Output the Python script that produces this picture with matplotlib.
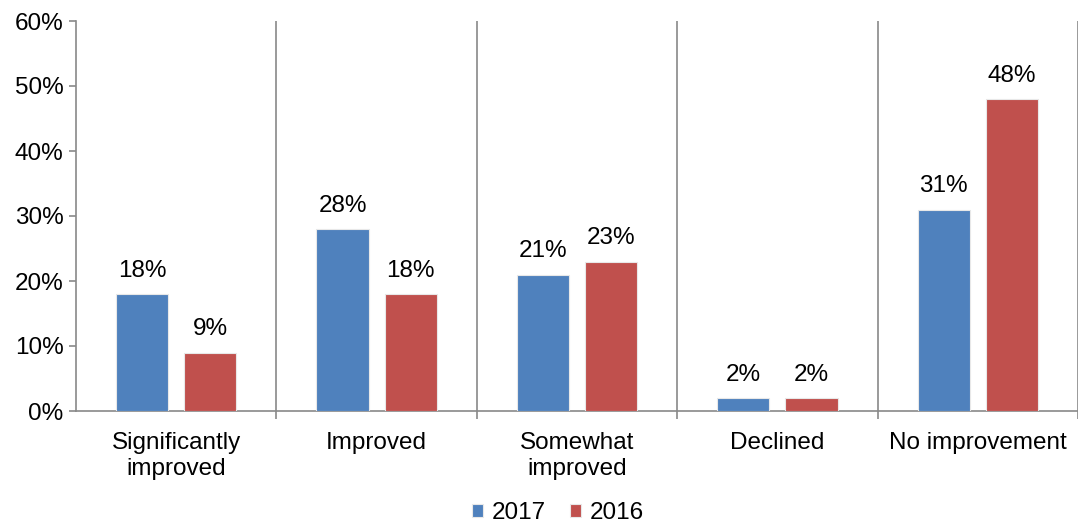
import numpy as np
import matplotlib.pyplot as plt
from matplotlib.ticker import PercentFormatter

plt.rcParams['font.family'] = ['Liberation Sans', 'DejaVu Sans']

categories = ['Significantly\nimproved', 'Improved', 'Somewhat\nimproved', 'Declined', 'No improvement']
vals_2017 = [18, 28, 21, 2, 31]
vals_2016 = [9, 18, 23, 2, 48]

blue = '#4F81BD'
red = '#C0504D'
grey = '#898989'
fs = 17.5

fig = plt.figure(figsize=(10.78, 5.26), dpi=100)
ax = fig.add_axes([76 / 1078, 1 - 411 / 526, 1 - 76 / 1078, 390 / 526])

x = np.arange(len(categories))
w = 0.26
off = 0.17
b1 = ax.bar(x - off, vals_2017, w, color=blue, edgecolor='#e8e8e8', linewidth=0.8, label='2017', zorder=3)
b2 = ax.bar(x + off, vals_2016, w, color=red, edgecolor='#e8e8e8', linewidth=0.8, label='2016', zorder=3)

for bars in (b1, b2):
    for r in bars:
        h = r.get_height()
        ax.text(r.get_x() + r.get_width() / 2, h + 1.9, f'{h:.0f}%',
                ha='center', va='bottom', fontsize=fs, color='black')

ax.set_ylim(0, 60)
ax.set_yticks(range(0, 61, 10))
ax.yaxis.set_major_formatter(PercentFormatter(decimals=0))
ax.set_xlim(-0.5, -0.5 + (1078 - 76) / 203)

# separators between categories
bounds = np.arange(len(categories)) + 0.5
for b in bounds:
    ax.axvline(b, color=grey, linewidth=1.2, zorder=1)
ax.set_xticks(bounds)
ax.set_xticklabels([])
ax.set_xticks(x, minor=True)
ax.set_xticklabels(categories, minor=True, fontsize=fs, linespacing=1.25)
ax.tick_params(axis='x', which='minor', length=0, pad=15)
ax.tick_params(axis='x', which='major', length=6, color=grey, width=1.2)
ax.tick_params(axis='y', length=5, color=grey, width=1.2, labelsize=fs, pad=4)

for s in ['top', 'right']:
    ax.spines[s].set_visible(False)
for s in ['left', 'bottom']:
    ax.spines[s].set_color(grey)
    ax.spines[s].set_linewidth(1.2)

fig.legend(handles=[b1, b2], labels=['2017', '2016'], loc='center',
           bbox_to_anchor=(558 / 1078, 1 - 513 / 526), ncol=2, frameon=False,
           fontsize=fs, handlelength=0.45, handleheight=0.45, handletextpad=0.35,
           columnspacing=1.0)

fig.savefig('out.png', dpi=100)
